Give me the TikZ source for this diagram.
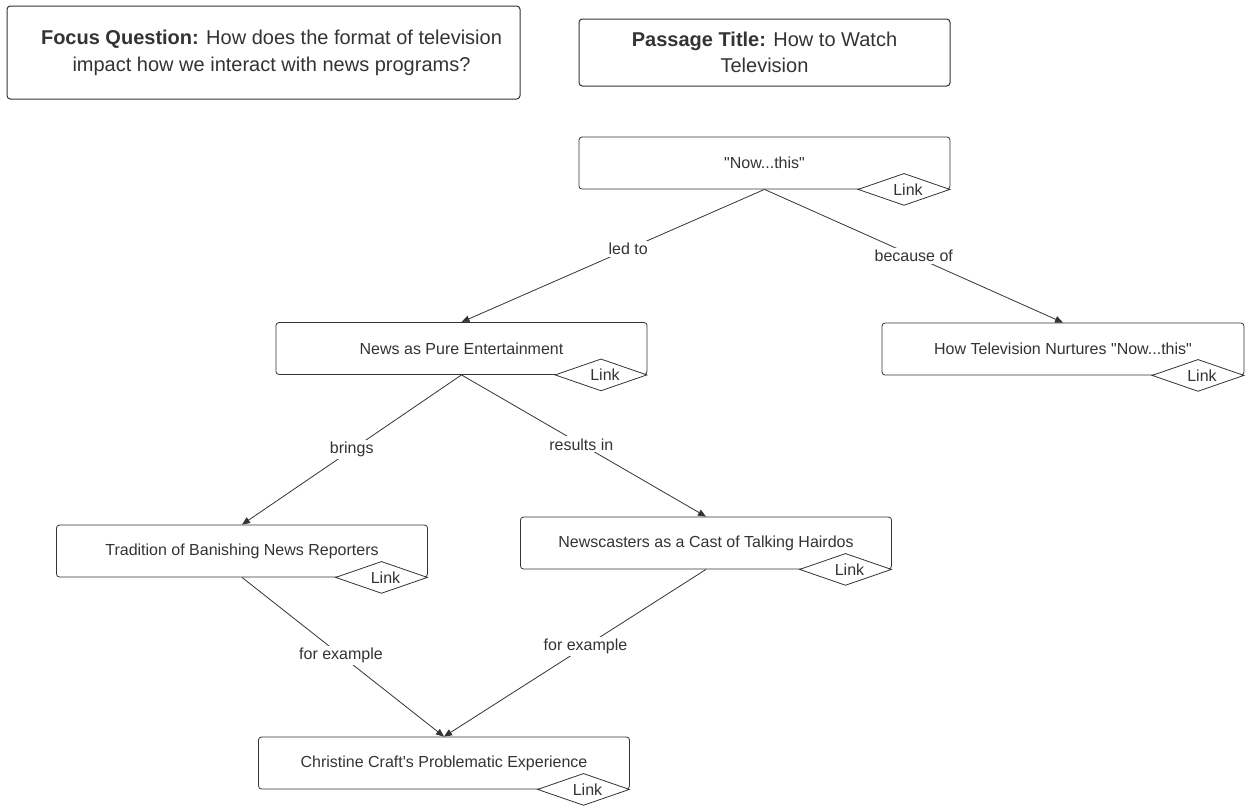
\documentclass[tikz,border=0pt]{standalone}
\usepackage{fontspec}
\setmainfont{Liberation Sans}[Ligatures=TeXOff]
\usetikzlibrary{arrows.meta,shapes.geometric}
\definecolor{ink}{HTML}{333333}
\begin{document}
\begin{tikzpicture}[x=0.75pt,y=-0.75pt,
  every node/.style={text=ink},
  header/.style={draw=ink, line width=0.75pt, rounded corners=2.5pt, align=center,
    font=\fontsize{15pt}{20pt}\selectfont, inner sep=0pt},
  concept/.style={draw=ink, line width=0.6pt, rounded corners=2.25pt, align=center,
    minimum width=278.25pt, minimum height=39pt, inner sep=0pt,
    font=\fontsize{12pt}{14pt}\selectfont},
  linkd/.style={draw=ink, line width=0.6pt, fill=white, shape=diamond, shape aspect=2.9,
    minimum width=69pt, minimum height=24pt, inner sep=0pt,
    font=\fontsize{12pt}{14pt}\selectfont},
  rel/.style={draw=ink, line width=0.6pt, -{Triangle[length=6pt,width=5pt]}},
  lbl/.style={fill=white, inner sep=1.5pt, font=\fontsize{12pt}{14pt}\selectfont}
]
\useasboundingbox (0,0) rectangle (1259,808);

% header boxes
\node[header, minimum width=384.75pt, minimum height=69.75pt] (focus) at (263.5,52.5)
  {\hspace*{12pt}\textbf{Focus Question:} How does the format of television\\\hspace*{12pt}impact how we interact with news programs?};
\node[header, minimum width=278.25pt, minimum height=50.25pt] (title) at (764.5,52.5)
  {\textbf{Passage Title:} How to Watch\\Television};

% concepts
\node[concept] (now)   at (764.5,163)  {"Now...this"};
\node[concept] (news)  at (461.5,348.5) {News as Pure Entertainment};
\node[concept, minimum width=271.5pt] (howtv) at (1063,349) {How Television Nurtures "Now...this"};
\node[concept] (trad)  at (242,551)    {Tradition of Banishing News Reporters};
\node[concept] (cast)  at (706,543)    {Newscasters as a Cast of Talking Hairdos};
\node[concept] (craft) at (444,763)    {Christine Craft's Problematic Experience};

% link badges
\foreach \n in {now,news,howtv,trad,cast,craft}
  \node[linkd, anchor=east] (\n-link) at (\n.south east) {\hspace*{6pt}Link};

% relations
\draw[rel] (now.south) -- node[lbl, pos=0.45] {led to} (news.north);
\draw[rel] (now.south) -- node[lbl, pos=0.5] {because of} (howtv.north);
\draw[rel] (news.south) -- node[lbl, pos=0.5] {brings} (trad.north);
\draw[rel] (news.south) -- node[lbl, pos=0.49] {results in} (cast.north);
\draw[rel] (trad.south) -- node[lbl, pos=0.49] {for example} (craft.north);
\draw[rel] (cast.south) -- node[lbl, pos=0.46] {for example} (craft.north);
\end{tikzpicture}
\end{document}
